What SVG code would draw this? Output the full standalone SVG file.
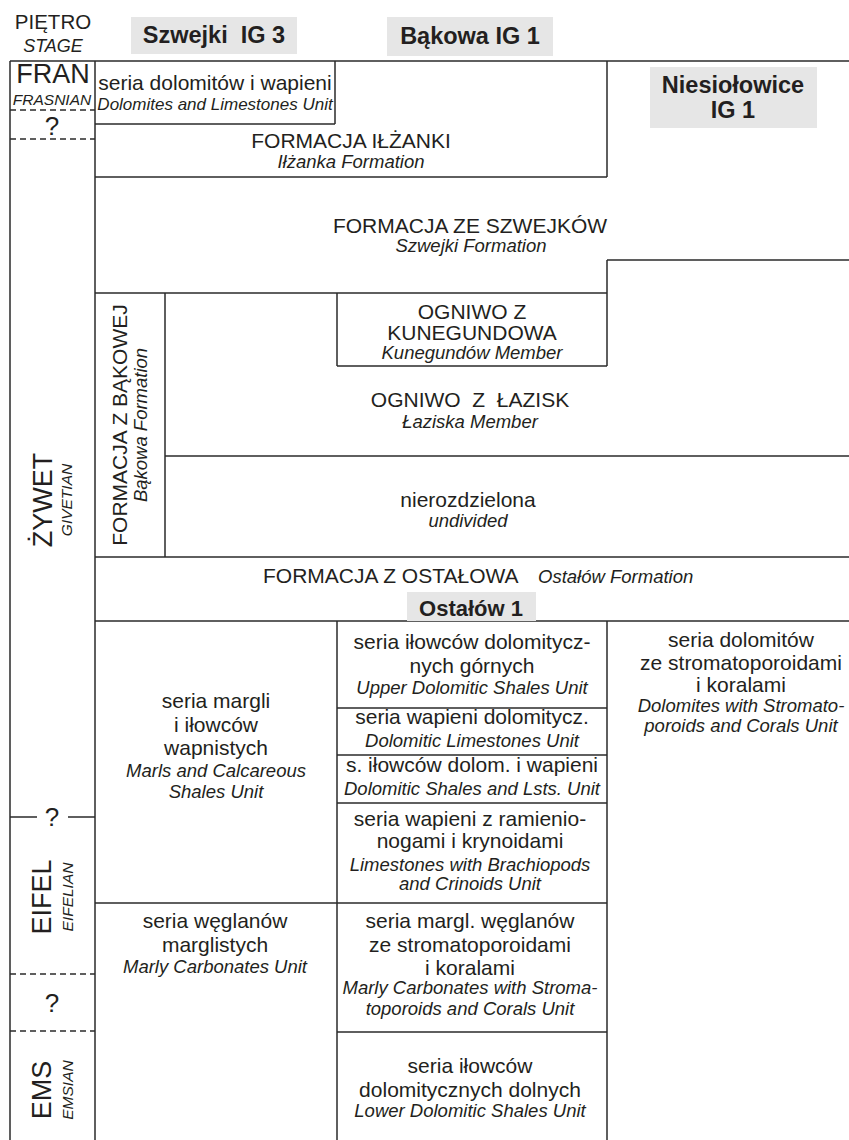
<svg xmlns="http://www.w3.org/2000/svg" width="849" height="1140" viewBox="0 0 849 1140">
<style>
text{font-family:"Liberation Sans",Arial,sans-serif;fill:#231f20;text-anchor:middle}
.r{font-size:21px}
.i{font-size:18.5px;font-style:italic}
.b{font-size:23.5px;font-weight:bold}
.sb{font-size:27px}
.si{font-size:15.5px;font-style:italic}
.hd{fill:#e6e6e6}
.ln{fill:none;stroke:#2b2b2b;stroke-width:1.5}
.dl{fill:none;stroke:#2b2b2b;stroke-width:1.3;stroke-dasharray:6 4}
</style>
<rect width="849" height="1140" fill="#fff"/>
<g id="connectors">
<path class="ln" d="M10 61H849 M10 61V1140 M95 61V1140 M335 61V124 M95 124H335 M607 61V177 M95 177H607 M607 260V293 M607 260H849 M95 293H607 M337 293V366 M337 366H607 M607 293V366 M165 293V557 M165 456H849 M95 557H849 M95 621H849 M337 621V1140 M607 621V1140 M95 903H607 M337 708H607 M337 755H607 M337 803H607 M337 1032H607 M10 817H37 M68 817H95"/>
<path class="dl" d="M10 110H95 M10 139H95 M10 974H95 M10 1031H95"/>
</g>
<g id="header">
<text class="r" x="53" y="29" style="font-size:20.5px">PIĘTRO</text>
<text class="i" x="53" y="52" style="font-size:18px">STAGE</text>
</g>
<g id="well-szwejki">
<rect class="hd" x="131" y="17" width="166" height="37"/>
<text class="b" x="214" y="43" xml:space="preserve">Szwejki  IG 3</text>
</g>
<g id="well-bakowa">
<rect class="hd" x="387" y="17" width="166" height="39"/>
<text class="b" x="470" y="44">Bąkowa IG 1</text>
</g>
<g id="well-niesiolowice">
<rect class="hd" x="650" y="67" width="167" height="61"/>
<text class="b" x="733" y="93">Niesiołowice</text>
<text class="b" x="733" y="118">IG 1</text>
</g>
<g id="stage-fran">
<text class="sb" x="53" y="83">FRAN</text>
<text class="si" x="52" y="105">FRASNIAN</text>
<text class="sb" x="52" y="135" style="font-size:26px">?</text>
</g>
<g id="stage-zywet">
<text class="sb" transform="translate(52,500) rotate(-90)">ŻYWET</text>
<text class="si" transform="translate(72,500) rotate(-90)">GIVETIAN</text>
</g>
<g id="stage-q2">
<text class="sb" x="52" y="826" style="font-size:26px">?</text>
</g>
<g id="stage-eifel">
<text class="sb" transform="translate(51,897) rotate(-90)">EIFEL</text>
<text class="si" transform="translate(73,897) rotate(-90)">EIFELIAN</text>
</g>
<g id="stage-q3">
<text class="sb" x="52" y="1012" style="font-size:26px">?</text>
</g>
<g id="stage-ems">
<text class="sb" transform="translate(51,1090) rotate(-90)">EMS</text>
<text class="si" transform="translate(73,1090) rotate(-90)">EMSIAN</text>
</g>
<g id="unit-dolomity-wapienie">
<text class="r" x="215" y="90">seria dolomitów i wapieni</text>
<text class="i" x="215" y="110" style="font-size:17px">Dolomites and Limestones Unit</text>
</g>
<g id="unit-ilzanka">
<text class="r" x="351" y="148">FORMACJA IŁŻANKI</text>
<text class="i" x="351" y="168">Iłżanka Formation</text>
</g>
<g id="unit-szwejki">
<text class="r" x="470" y="233">FORMACJA ZE SZWEJKÓW</text>
<text class="i" x="471" y="252">Szwejki Formation</text>
</g>
<g id="unit-bakowa">
<text class="r" transform="translate(127,425) rotate(-90)">FORMACJA Z BĄKOWEJ</text>
<text class="i" transform="translate(147,425) rotate(-90)">Bąkowa Formation</text>
</g>
<g id="unit-kunegundow">
<text class="r" x="472" y="319">OGNIWO Z</text>
<text class="r" x="472" y="340">KUNEGUNDOWA</text>
<text class="i" x="472" y="359">Kunegundów Member</text>
</g>
<g id="unit-laziska">
<text class="r" x="470" y="407" xml:space="preserve">OGNIWO  Z  ŁAZISK</text>
<text class="i" x="470" y="428">Łaziska Member</text>
</g>
<g id="unit-nierozdzielona">
<text class="r" x="468" y="507">nierozdzielona</text>
<text class="i" x="468" y="527">undivided</text>
</g>
<g id="unit-ostalow">
<text class="r" x="263" y="583" style="text-anchor:start">FORMACJA Z OSTAŁOWA</text>
<text class="i" x="538" y="583" style="text-anchor:start">Ostałów Formation</text>
</g>
<g id="well-ostalow">
<rect class="hd" x="407" y="592" width="129" height="29"/>
<text class="b" x="471" y="616" style="font-size:22px">Ostałów 1</text>
</g>
<g id="unit-margle">
<text class="r" x="216" y="708">seria margli</text>
<text class="r" x="216" y="732">i iłowców</text>
<text class="r" x="216" y="755">wapnistych</text>
<text class="i" x="216" y="777">Marls and Calcareous</text>
<text class="i" x="216" y="798">Shales Unit</text>
</g>
<g id="unit-weglany">
<text class="r" x="215" y="928">seria węglanów</text>
<text class="r" x="215" y="952">marglistych</text>
<text class="i" x="215" y="973">Marly Carbonates Unit</text>
</g>
<g id="unit-ilowce-gorne">
<text class="r" x="472" y="649">seria iłowców dolomitycz-</text>
<text class="r" x="472" y="673">nych górnych</text>
<text class="i" x="472" y="694">Upper Dolomitic Shales Unit</text>
</g>
<g id="unit-wapienie-dolomitycz">
<text class="r" x="472" y="724">seria wapieni dolomitycz.</text>
<text class="i" x="472" y="747">Dolomitic Limestones Unit</text>
</g>
<g id="unit-ilowce-wapienie">
<text class="r" x="472" y="772">s. iłowców dolom. i wapieni</text>
<text class="i" x="472" y="795">Dolomitic Shales and Lsts. Unit</text>
</g>
<g id="unit-ramienionogi">
<text class="r" x="470" y="826">seria wapieni z ramienio-</text>
<text class="r" x="470" y="848">nogami i krynoidami</text>
<text class="i" x="470" y="871">Limestones with Brachiopods</text>
<text class="i" x="470" y="890">and Crinoids Unit</text>
</g>
<g id="unit-margl-weglany">
<text class="r" x="470" y="928">seria margl. węglanów</text>
<text class="r" x="470" y="952">ze stromatoporoidami</text>
<text class="r" x="470" y="975">i koralami</text>
<text class="i" x="470" y="994">Marly Carbonates with Stroma-</text>
<text class="i" x="470" y="1015">toporoids and Corals Unit</text>
</g>
<g id="unit-ilowce-dolne">
<text class="r" x="470" y="1073">seria iłowców</text>
<text class="r" x="470" y="1097">dolomitycznych dolnych</text>
<text class="i" x="470" y="1117">Lower Dolomitic Shales Unit</text>
</g>
<g id="unit-dolomity-stromatoporoidy">
<text class="r" x="741" y="647">seria dolomitów</text>
<text class="r" x="741" y="670">ze stromatoporoidami</text>
<text class="r" x="741" y="692">i koralami</text>
<text class="i" x="741" y="712">Dolomites with Stromato-</text>
<text class="i" x="741" y="732">poroids and Corals Unit</text>
</g>
</svg>
